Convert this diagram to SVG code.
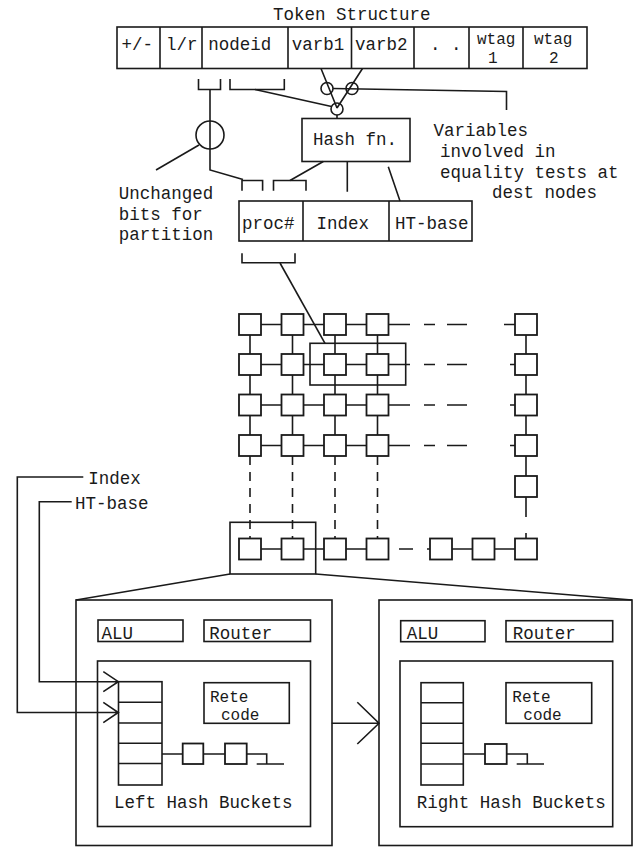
<svg xmlns="http://www.w3.org/2000/svg" width="634" height="847" viewBox="0 0 634 847">
<style>
.ln{stroke:#1a1a1a;stroke-width:1.6;fill:none}
.bx{fill:none;stroke:#1a1a1a;stroke-width:1.6}
.sq{fill:#fff;stroke:#1a1a1a;stroke-width:1.8}
.t{font-family:"Liberation Mono","Courier New",monospace;font-size:17.5px;fill:#1a1a1a}
.s{font-size:16px}
</style>
<rect width="634" height="847" fill="#fff"/>
<text class="t" x="273" y="19.5">Token Structure</text>
<g id="token-structure">
<rect class="bx" x="117" y="27" width="470" height="41.5"/>
<path class="ln" d="M160 27V68.5M202 27V68.5M288 27V68.5M351.5 27V68.5M414 27V68.5M469 27V68.5M523 27V68.5"/>
<text class="t" x="121.5" y="50">+/-</text>
<text class="t" x="166" y="50">l/r</text>
<text class="t" x="208.3" y="50">nodeid</text>
<text class="t" x="291.7" y="50">varb1</text>
<text class="t" x="355" y="50">varb2</text>
<text class="t" x="430" y="50">. .</text>
<text class="t s" x="477" y="44">wtag</text>
<text class="t s" x="488" y="63">1</text>
<text class="t s" x="534" y="44">wtag</text>
<text class="t s" x="549" y="63">2</text>
</g>
<g id="hash-fn">
<rect class="bx" x="302" y="118.5" width="108" height="43"/>
<text class="t" x="313" y="145">Hash fn.</text>
</g>
<g id="address">
<rect class="bx" x="239" y="201" width="233" height="40"/>
<path class="ln" d="M303 201V241M389 201V241"/>
<text class="t" x="242" y="229">proc#</text>
<text class="t" x="316.5" y="229">Index</text>
<text class="t" x="395" y="229">HT-base</text>
</g>
<g id="labels">
<text class="t" x="433.5" y="136">Variables</text>
<text class="t" x="440" y="157">involved in</text>
<text class="t" x="440" y="177.5">equality tests at</text>
<text class="t" x="492" y="198">dest nodes</text>
<text class="t" x="118.7" y="199">Unchanged</text>
<text class="t" x="118.7" y="219.5">bits for</text>
<text class="t" x="118.7" y="240">partition</text>
<text class="t" x="88.3" y="483.5">Index</text>
<text class="t" x="75" y="508.5">HT-base</text>
</g>
<g id="connectors">
<path class="ln" d="M198.5 79V89.5H220.5V79M230 79V89.5H284.3V79"/>
<path class="ln" d="M210 89.5V170L243 179.5"/>
<circle class="ln" cx="210" cy="135" r="14"/>
<path class="ln" d="M199 145L156 170"/>
<path class="ln" d="M255 89.5L331.5 106.5"/>
<path class="ln" d="M321 68.5L337 108M362.5 68.5L337 108"/>
<circle class="ln" cx="327" cy="88.5" r="6"/>
<circle class="ln" cx="352" cy="88.5" r="6"/>
<circle class="ln" cx="337" cy="109" r="6"/>
<path class="ln" d="M333 88.5L506.5 91.5V110"/>
<path class="ln" d="M337 115V118.5"/>
<path class="ln" d="M323.3 161.5L290 180.5M347.3 161.5V191.7M388.3 166.7L400 201"/>
<path class="ln" d="M242 190.7V180.5H262.6V190.7M273.5 190.7V180.5H306V190.7"/>
<path class="ln" d="M242 253.3V262.7H295V253.3"/>
<path class="ln" d="M280 263L325 343.3"/>
<path class="ln" d="M261 324.5H281.5M303.5 324.5H324M346 324.5H366.5M388.5 324.5H410M424 324.5H435M447 324.5H467M504 324.5H515"/>
<path class="ln" d="M261 364.5H281.5M303.5 364.5H324M346 364.5H366.5M388.5 364.5H410M424 364.5H435M447 364.5H467M510 364.5H515"/>
<path class="ln" d="M261 405H281.5M303.5 405H324M346 405H366.5M388.5 405H410M424 405H435M447 405H467M510 405H515"/>
<path class="ln" d="M261 445.5H281.5M303.5 445.5H324M346 445.5H366.5M388.5 445.5H410M424 445.5H435M447 445.5H467M510 445.5H515"/>
<path class="ln" d="M261 549H281.5M303.5 549H324M346 549H366.5M399 549H413M427 549H430M452 549H472.5M494.5 549H515"/>
<path class="ln" d="M250 335V354M250 375V394.5M250 415.5V435M292.5 335V354M292.5 375V394.5M292.5 415.5V435M335 335V354M335 375V394.5M335 415.5V435M377.5 335V354M377.5 375V394.5M377.5 415.5V435M526 335V354M526 375V394.5M526 415.5V435M526 456V476M526 497V517M526 533V538.5"/>
<path class="ln" stroke-dasharray="9 7" d="M250 456V538.5M292.5 456V538.5M335 456V538.5M377.5 456V538.5"/>
<rect class="bx" x="310" y="343.3" width="95.7" height="41.7"/>
<rect class="bx" x="230" y="522.3" width="85.7" height="51.7"/>
<path class="ln" d="M230 574L76 600M315.7 574L632 600"/>
<path class="ln" d="M83.3 477H17.3V712.5H118.3M103.3 702.3L118.3 712.5L103.3 722.7"/>
<path class="ln" d="M71.7 501.7H39.3V681.7H118.3M103.3 671.7L118.3 681.7L103.3 691.7"/>
<path class="ln" d="M331.7 723.3H379M357.3 702.3L379 723.3L357.3 744"/>
</g>
<g id="mesh">
<rect class="sq" x="239" y="314" width="22" height="21"/>
<rect class="sq" x="281.5" y="314" width="22" height="21"/>
<rect class="sq" x="324" y="314" width="22" height="21"/>
<rect class="sq" x="366.5" y="314" width="22" height="21"/>
<rect class="sq" x="515" y="314" width="22" height="21"/>
<rect class="sq" x="239" y="354" width="22" height="21"/>
<rect class="sq" x="281.5" y="354" width="22" height="21"/>
<rect class="sq" x="324" y="354" width="22" height="21"/>
<rect class="sq" x="366.5" y="354" width="22" height="21"/>
<rect class="sq" x="515" y="354" width="22" height="21"/>
<rect class="sq" x="239" y="394.5" width="22" height="21"/>
<rect class="sq" x="281.5" y="394.5" width="22" height="21"/>
<rect class="sq" x="324" y="394.5" width="22" height="21"/>
<rect class="sq" x="366.5" y="394.5" width="22" height="21"/>
<rect class="sq" x="515" y="394.5" width="22" height="21"/>
<rect class="sq" x="239" y="435" width="22" height="21"/>
<rect class="sq" x="281.5" y="435" width="22" height="21"/>
<rect class="sq" x="324" y="435" width="22" height="21"/>
<rect class="sq" x="366.5" y="435" width="22" height="21"/>
<rect class="sq" x="515" y="435" width="22" height="21"/>
<rect class="sq" x="515" y="476" width="22" height="21"/>
<rect class="sq" x="239" y="538.5" width="22" height="21"/>
<rect class="sq" x="281.5" y="538.5" width="22" height="21"/>
<rect class="sq" x="324" y="538.5" width="22" height="21"/>
<rect class="sq" x="366.5" y="538.5" width="22" height="21"/>
<rect class="sq" x="430" y="538.5" width="22" height="21"/>
<rect class="sq" x="472.5" y="538.5" width="22" height="21"/>
<rect class="sq" x="515" y="538.5" width="22" height="21"/>
</g>
<g id="left-pe">
<rect class="bx" x="76" y="600" width="256" height="245.5"/>
<rect class="bx" x="98" y="620" width="85" height="21.5"/>
<text class="t" x="101.5" y="639">ALU</text>
<rect class="bx" x="204" y="620" width="106.5" height="21.5"/>
<text class="t" x="209.3" y="639">Router</text>
<rect class="bx" x="97.5" y="661" width="213" height="165.5"/>
<rect class="bx" x="118.5" y="681.7" width="43.5" height="103.3"/>
<path class="ln" d="M118.5 702.3H162M118.5 723H162M118.5 743.3H162M118.5 763.5H162"/>
<path class="ln" d="M162 754H182.7M203.3 754H225M246.7 754H266.7V764M256.7 764H284"/>
<rect class="sq" x="182.7" y="743.5" width="20.6" height="20.5"/>
<rect class="sq" x="225" y="743.5" width="21.7" height="20.5"/>
<rect class="bx" x="204" y="682.7" width="85.3" height="40.6"/>
<text class="t s" x="210" y="702">Rete</text>
<text class="t s" x="221" y="719.5">code</text>
<text class="t" x="114" y="807.5">Left Hash Buckets</text>
</g>
<g id="right-pe">
<rect class="bx" x="379" y="600" width="253" height="245.5"/>
<rect class="bx" x="400.7" y="620.7" width="84.3" height="21"/>
<text class="t" x="406.7" y="639">ALU</text>
<rect class="bx" x="506" y="620.7" width="106.7" height="21"/>
<text class="t" x="512.7" y="639">Router</text>
<rect class="bx" x="400" y="661" width="212.7" height="165.7"/>
<rect class="bx" x="421" y="682.7" width="42.3" height="102.3"/>
<path class="ln" d="M421 702.7H463.3M421 723.3H463.3M421 743.3H463.3M421 764H463.3"/>
<path class="ln" d="M463.3 754H485M506.7 754H527.3V764M516.7 764H544"/>
<rect class="sq" x="485" y="744" width="21.7" height="20"/>
<rect class="bx" x="506" y="682.7" width="85.7" height="40.6"/>
<text class="t s" x="512.3" y="702">Rete</text>
<text class="t s" x="523.3" y="719.5">code</text>
<text class="t" x="416.7" y="807.5">Right Hash Buckets</text>
</g>
</svg>
